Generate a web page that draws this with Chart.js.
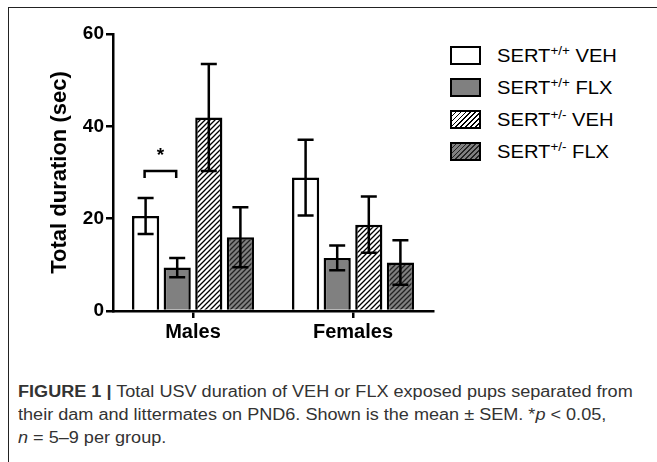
<!DOCTYPE html>
<html>
<head>
<meta charset="utf-8">
<script src="https://cdn.jsdelivr.net/npm/chart.js@4.4.1/dist/chart.umd.min.js"></script>
<style>
  html, body { margin: 0; padding: 0; background: #fff; }
  body { width: 657px; height: 462px; position: relative; overflow: hidden; font-family: "Liberation Sans", Arial, sans-serif; }
  #frame { position: absolute; left: 8px; top: 7px; width: 649px; height: 455px; border-top: 1px solid #222; border-left: 1px solid #222; box-sizing: border-box; }
  #wrap { position: absolute; left: 0; top: 0; width: 440px; height: 360px; }
  #legend { position: absolute; left: 450px; top: 45px; }
  .row { position: relative; height: 32px; }
  .sw { position: absolute; left: 0; top: 1px; width: 31px; height: 19px; box-sizing: border-box; border: 2.5px solid #000; }
  .lab { position: absolute; left: 47px; top: 0; font-size: 18px; line-height: 22px; color: #000; white-space: nowrap; transform: scaleX(1.12); transform-origin: 0 0; }
  .lab sup { font-size: 12px; vertical-align: 7px; line-height: 0; }
  #caption { position: absolute; left: 18px; top: 380px; font-size: 16px; line-height: 23px; color: #333; white-space: nowrap; transform: scaleX(1.13); transform-origin: 0 0; }
</style>
</head>
<body>
<div id="frame"></div>
<div id="wrap"><canvas id="chart" width="440" height="360"></canvas></div>
<div id="legend"></div>
<div id="caption"><b>FIGURE 1 |</b> Total USV duration of VEH or FLX exposed pups separated from<br>their dam and littermates on PND6. Shown is the mean &plusmn; SEM. *<i>p</i> &lt; 0.05,<br><i>n</i> = 5&ndash;9 per group.</div>
<script>
const categories = ['Males', 'Females'];
const genotypes = ['+/+', '+/+', '+/-', '+/-'];
const treatments = ['VEH', 'FLX', 'VEH', 'FLX'];

// means (sec) and SEM
const wtVeh = [20.6, 28.9];
const wtFlx = [9.4, 11.5];
const hetVeh = [41.9, 18.7];
const hetFlx = [16.0, 10.5];
const wtVehSem = [3.9, 8.2];
const wtFlxSem = [2.1, 2.7];
const hetVehSem = [11.6, 6.1];
const hetFlxSem = [6.5, 4.8];

const yTicks = [0, 20, 40, 60];
// significance bracket over males VEH vs FLX (SERT+/+)
const sigTop = 30.3;
const sigLeg = 28.8;
const sigStar = 33.6;

const gray = '#808080';

function hatch(bg, lineColor) {
  const p = 5;
  const c = document.createElement('canvas');
  c.width = p; c.height = p;
  const g = c.getContext('2d');
  g.fillStyle = bg;
  g.fillRect(0, 0, p, p);
  g.strokeStyle = lineColor;
  g.lineWidth = 1.3;
  g.beginPath();
  g.moveTo(-1, 1); g.lineTo(1, -1);
  g.moveTo(0, p); g.lineTo(p, 0);
  g.moveTo(p - 1, p + 1); g.lineTo(p + 1, p - 1);
  g.stroke();
  return g.createPattern(c, 'repeat');
}

const fills = ['#ffffff', gray, hatch('#ffffff', '#000'), hatch(gray, '#222')];
const means = [wtVeh, wtFlx, hetVeh, hetFlx];
const sems = [wtVehSem, wtFlxSem, hetVehSem, hetFlxSem];

// legend as html so the superscripts stay real text
const swatchCss = [
  'background:#fff',
  'background:' + gray,
  'background:repeating-linear-gradient(135deg,#fff 0 2.2px,#000 2.2px 3.5px)',
  'background:repeating-linear-gradient(135deg,' + gray + ' 0 2.2px,#222 2.2px 3.5px)'
];
const legend = document.getElementById('legend');
for (let i = 0; i < 4; i++) {
  const row = document.createElement('div');
  row.className = 'row';
  row.innerHTML = '<div class="sw" style="' + swatchCss[i] + '"></div>' +
    '<div class="lab">SERT<sup>' + genotypes[i] + '</sup> ' + treatments[i] + '</div>';
  legend.appendChild(row);
}

const errorBars = {
  id: 'errorBars',
  afterDatasetsDraw(chart) {
    const ctx = chart.ctx;
    const y = chart.scales.y;
    ctx.save();
    ctx.strokeStyle = '#000';
    ctx.lineWidth = 2.5;
    means.forEach((m, di) => {
      const meta = chart.getDatasetMeta(di);
      meta.data.forEach((bar, j) => {
        const hi = y.getPixelForValue(m[j] + sems[di][j]);
        const lo = y.getPixelForValue(m[j] - sems[di][j]);
        const cap = 8;
        ctx.beginPath();
        ctx.moveTo(bar.x, hi); ctx.lineTo(bar.x, lo);
        ctx.moveTo(bar.x - cap, hi); ctx.lineTo(bar.x + cap, hi);
        ctx.moveTo(bar.x - cap, lo); ctx.lineTo(bar.x + cap, lo);
        ctx.stroke();
      });
    });

    const b1 = chart.getDatasetMeta(0).data[0];
    const b2 = chart.getDatasetMeta(1).data[0];
    const top = y.getPixelForValue(sigTop);
    const leg = y.getPixelForValue(sigLeg);
    ctx.beginPath();
    ctx.moveTo(b1.x - 1, leg); ctx.lineTo(b1.x - 1, top);
    ctx.lineTo(b2.x - 1, top); ctx.lineTo(b2.x - 1, leg);
    ctx.stroke();
    ctx.fillStyle = '#000';
    ctx.font = 'bold 19px "Liberation Sans", Arial, sans-serif';
    ctx.textAlign = 'center';
    ctx.textBaseline = 'middle';
    ctx.fillText('*', (b1.x + b2.x) / 2 - 1, y.getPixelForValue(sigStar));
    ctx.restore();
  }
};

new Chart(document.getElementById('chart'), {
  type: 'bar',
  data: {
    labels: categories,
    datasets: means.map((m, i) => ({
      label: 'SERT' + genotypes[i] + ' ' + treatments[i],
      data: m,
      backgroundColor: fills[i],
      borderColor: '#000',
      borderWidth: 2.5,
      categoryPercentage: 0.79,
      barPercentage: 0.86
    }))
  },
  options: {
    responsive: false,
    animation: false,
    events: [],
    layout: { padding: { top: 34, right: 7, left: 0, bottom: 0 } },
    plugins: { legend: { display: false }, tooltip: { enabled: false } },
    scales: {
      x: {
        grid: { offset: false, drawOnChartArea: false, color: '#000', lineWidth: 2.5, tickLength: 7 },
        border: { color: '#000', width: 2.5 },
        ticks: { color: '#000', font: { family: '"Liberation Sans", Arial', size: 20, weight: 'bold' }, padding: 2 },
        afterFit(s) { s.height = 49; }
      },
      y: {
        min: 0,
        max: 60,
        afterBuildTicks(s) { s.ticks = yTicks.map(v => ({ value: v })); },
        grid: { drawOnChartArea: false, color: '#000', lineWidth: 2.5, tickLength: 7 },
        border: { color: '#000', width: 2.5 },
        ticks: { color: '#000', font: { family: '"Liberation Sans", Arial', size: 19, weight: 'bold' }, padding: 2 },
        title: {
          display: true,
          text: 'Total duration (sec)',
          color: '#000',
          font: { family: '"Liberation Sans", Arial', size: 22, weight: 'bold' },
          padding: { top: 47, bottom: 0 }
        },
        afterFit(s) { s.width = 113; }
      }
    }
  },
  plugins: [errorBars]
});
</script>
</body>
</html>
